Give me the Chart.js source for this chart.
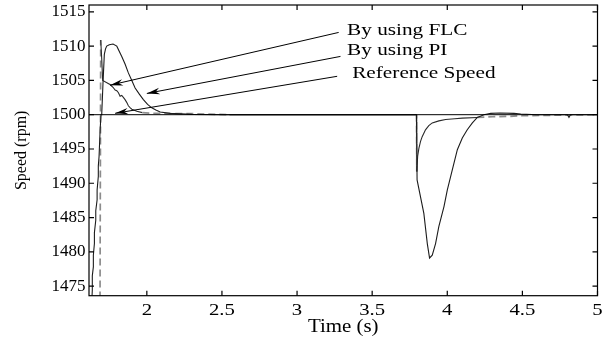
<!DOCTYPE html>
<html>
<head>
<meta charset="utf-8">
<script src="https://cdn.jsdelivr.net/npm/chart.js@4.4.1/dist/chart.umd.min.js"></script>
<style>
  html, body { margin: 0; padding: 0; background: #fff; }
  #wrap { width: 612px; height: 339px; }
</style>
</head>
<body>
<div id="wrap"><canvas id="c" width="612" height="339"></canvas></div>
<script>
// Axis ticks
const xTicks = [2, 2.5, 3, 3.5, 4, 4.5, 5];
const yTicks = [1475, 1480, 1485, 1490, 1495, 1500, 1505, 1510, 1515];

// Reference speed (rpm)
const refTime  = [1.55, 5.0];
const refSpeed = [1500, 1500];

// Speed response with the PI controller (rpm)
const piTime = [
  1.628, 1.637, 1.637, 1.644, 1.644, 1.651, 1.651, 1.660, 1.660, 1.669, 1.669,
  1.677, 1.677, 1.682, 1.689, 1.695, 1.700, 1.708, 1.717, 1.725, 1.733, 1.750,
  1.775, 1.800, 1.833, 1.855, 1.877, 1.900, 1.922, 1.950, 1.977, 2.005, 2.033,
  2.060, 2.089, 2.155, 2.300, 2.500, 3.000, 3.795, 3.799, 3.844,
  3.867, 3.882, 3.900, 3.922, 3.944, 3.978, 4.000, 4.033, 4.067, 4.100, 4.133,
  4.167, 4.200, 4.244, 4.289, 4.350, 4.444, 4.489, 4.600, 4.800, 4.810, 4.820,
  5.000
];
const piSpeed = [
  1470.0, 1474.4, 1476.5, 1477.8, 1479.5, 1481.2, 1482.8, 1484.6, 1486.0, 1487.6, 1489.0,
  1491.0, 1492.5, 1493.9, 1497.8, 1500.0, 1500.2, 1504.5, 1508.8, 1509.6, 1510.0, 1510.2,
  1510.3, 1510.0, 1508.5, 1507.4, 1506.1, 1505.0, 1503.9, 1503.0, 1502.2, 1501.5, 1501.0,
  1500.7, 1500.4, 1500.2, 1500.05, 1500.0, 1500.0, 1500.0, 1490.5, 1485.6,
  1481.2, 1479.1, 1479.5, 1481.2, 1483.7, 1486.6, 1489.0, 1491.9, 1494.9, 1496.6, 1497.8,
  1498.8, 1499.6, 1500.0, 1500.2, 1500.25, 1500.2, 1500.1, 1500.0, 1500.0, 1499.6, 1500.0,
  1500.0
];

// Speed response with the fuzzy logic controller (rpm)
const flcTime = [
  1.688, 1.693, 1.700, 1.706, 1.755, 1.775, 1.789, 1.800, 1.811, 1.822, 1.833,
  1.845, 1.855, 1.866, 1.877, 1.890, 1.900, 1.933, 1.970, 2.050, 2.300, 2.550,
  3.000, 3.795, 3.797, 3.803, 3.811, 3.822, 3.833, 3.855, 3.877, 3.900, 3.944,
  3.989, 4.050, 4.100, 4.200, 4.300, 4.400, 4.500, 4.650, 4.800, 5.000
];
const flcSpeed = [
  1470.0, 1510.9, 1508.0, 1505.0, 1504.4, 1504.0, 1503.6, 1503.5, 1503.2, 1502.7, 1502.8,
  1502.5, 1502.2, 1501.8, 1501.3, 1501.0, 1500.8, 1500.5, 1500.3, 1500.2, 1500.15, 1500.0,
  1500.0, 1500.0, 1491.7, 1494.0, 1495.1, 1496.1, 1496.8, 1497.8, 1498.4, 1498.8, 1499.1,
  1499.3, 1499.4, 1499.5, 1499.6, 1499.7, 1499.75, 1499.85, 1499.9, 1499.95, 1500.0
];

// Labelled arrows, anchored in data units [time, speed]
const noteText = ['By using FLC', 'By using PI', 'Reference Speed'];
const noteTip  = [[1.755, 1504.3], [2.000, 1503.1], [1.789, 1500.2]];
const noteTail = [[3.277, 1512.0], [3.289, 1508.5], [3.267, 1505.6]];
const noteAt   = [[3.333, 1512.3], [3.333, 1509.3], [3.367, 1505.95]];

const SERIF = "'Liberation Serif', 'Times New Roman', serif";

const pts = (ts, vs) => ts.map((t, i) => ({ x: t, y: vs[i] }));

// Text drawn with a horizontal stretch factor (wide serif lettering)
function wideText(ctx, txt, x, y, sx, align) {
  ctx.save();
  ctx.translate(x, y);
  ctx.scale(sx, 1);
  ctx.textAlign = align;
  ctx.textBaseline = 'middle';
  ctx.fillText(txt, 0, 0);
  ctx.restore();
}

// FLC trace: dashed grey where it is flat or nearly vertical, solid elsewhere
function flcSeg(ctx) {
  const a = ctx.p0.parsed, b = ctx.p1.parsed;
  const onRef = Math.abs(a.y - 1500) < 0.03 && Math.abs(b.y - 1500) < 0.03;
  const flat = Math.abs(a.y - 1500) < 0.45 && Math.abs(b.y - 1500) < 0.45;
  const steep = Math.abs((b.y - a.y) / (b.x - a.x)) > 700;
  if (onRef) return 'ref';
  if (flat || steep) return 'dash';
  return 'solid';
}

const framePlugin = {
  id: 'frame',
  afterDraw(chart) {
    const { ctx, chartArea: a, scales } = chart;
    ctx.save();
    ctx.strokeStyle = '#000';
    ctx.lineWidth = 1.2;
    ctx.strokeRect(a.left, a.top, a.right - a.left, a.bottom - a.top);
    const len = 5;
    ctx.beginPath();
    xTicks.forEach(v => {
      const px = scales.x.getPixelForValue(v);
      ctx.moveTo(px, a.bottom); ctx.lineTo(px, a.bottom - len);
      ctx.moveTo(px, a.top);    ctx.lineTo(px, a.top + len);
    });
    yTicks.forEach(v => {
      const py = scales.y.getPixelForValue(v);
      ctx.moveTo(a.left, py);  ctx.lineTo(a.left + len, py);
      ctx.moveTo(a.right, py); ctx.lineTo(a.right - len, py);
    });
    ctx.stroke();

    // x tick labels and x axis title
    ctx.fillStyle = '#000';
    ctx.font = '17px ' + SERIF;
    xTicks.forEach(v => {
      wideText(ctx, String(v), scales.x.getPixelForValue(v), a.bottom + 14.5, 1.22, 'center');
    });
    ctx.font = '19px ' + SERIF;
    wideText(ctx, 'Time (s)', (a.left + a.right) / 2, a.bottom + 31, 1.1, 'center');
    ctx.restore();
  }
};

const notePlugin = {
  id: 'notes',
  afterDraw(chart) {
    const { ctx, scales } = chart;
    const X = v => scales.x.getPixelForValue(v);
    const Y = v => scales.y.getPixelForValue(v);
    ctx.save();
    ctx.strokeStyle = '#000';
    ctx.fillStyle = '#000';
    ctx.lineWidth = 1;
    noteText.forEach((txt, i) => {
      const tx = X(noteTip[i][0]), ty = Y(noteTip[i][1]);
      const sx = X(noteTail[i][0]), sy = Y(noteTail[i][1]);
      ctx.beginPath();
      ctx.moveTo(sx, sy); ctx.lineTo(tx, ty);
      ctx.stroke();
      const ang = Math.atan2(ty - sy, tx - sx);
      const L = 13, W = 3.2, N = 9;
      ctx.beginPath();
      ctx.moveTo(tx, ty);
      ctx.lineTo(tx - L * Math.cos(ang) + W * Math.sin(ang), ty - L * Math.sin(ang) - W * Math.cos(ang));
      ctx.lineTo(tx - N * Math.cos(ang), ty - N * Math.sin(ang));
      ctx.lineTo(tx - L * Math.cos(ang) - W * Math.sin(ang), ty - L * Math.sin(ang) + W * Math.cos(ang));
      ctx.closePath();
      ctx.fill();
      ctx.font = '17px ' + SERIF;
      wideText(ctx, txt, X(noteAt[i][0]), Y(noteAt[i][1]), 1.25, 'left');
    });
    ctx.restore();
  }
};

new Chart(document.getElementById('c').getContext('2d'), {
  type: 'line',
  data: {
    datasets: [
      {
        label: 'Reference Speed',
        data: pts(refTime, refSpeed),
        borderColor: '#000', borderWidth: 1, pointRadius: 0, tension: 0
      },
      {
        label: 'By using PI',
        data: pts(piTime, piSpeed),
        borderColor: '#1c1c1c', borderWidth: 1.1, pointRadius: 0, tension: 0
      },
      {
        label: 'By using FLC',
        data: pts(flcTime, flcSpeed),
        borderColor: '#2a2a2a', borderWidth: 1.1, pointRadius: 0, tension: 0,
        segment: {
          borderColor: c => { const k = flcSeg(c); return k === 'dash' ? '#8c8c8c' : (k === 'ref' ? '#000' : '#2a2a2a'); },
          borderDash: c => flcSeg(c) === 'dash' ? [7, 4] : [],
          borderWidth: c => flcSeg(c) === 'dash' ? 1.7 : 1.1
        }
      }
    ]
  },
  options: {
    responsive: false,
    animation: false,
    devicePixelRatio: 1,
    layout: { padding: { left: 0, right: 14.5, top: 5, bottom: 0 } },
    plugins: { legend: { display: false }, tooltip: { enabled: false } },
    scales: {
      x: {
        type: 'linear', min: 1.615, max: 5,
        afterBuildTicks: s => { s.ticks = xTicks.map(v => ({ value: v })); },
        afterFit: s => { s.height = 43.3; s.paddingLeft = 0; s.paddingRight = 0; },
        grid: { display: false, drawTicks: false },
        border: { display: false },
        ticks: { display: false },
        title: { display: false }
      },
      y: {
        type: 'linear', min: 1473.6, max: 1516,
        afterBuildTicks: s => { s.ticks = yTicks.map(v => ({ value: v })); },
        afterFit: s => { s.width = 89; s.paddingTop = 0; s.paddingBottom = 0; },
        grid: { display: false, drawTicks: false },
        border: { display: false },
        ticks: { padding: 3.5, color: '#000', font: { family: SERIF, size: 17 }, autoSkip: false, callback: v => String(v) },
        title: { display: true, text: 'Speed (rpm)', color: '#000', font: { family: SERIF, size: 16 }, padding: { top: 12, bottom: 0 } }
      }
    }
  },
  plugins: [framePlugin, notePlugin]
});
</script>
</body>
</html>
